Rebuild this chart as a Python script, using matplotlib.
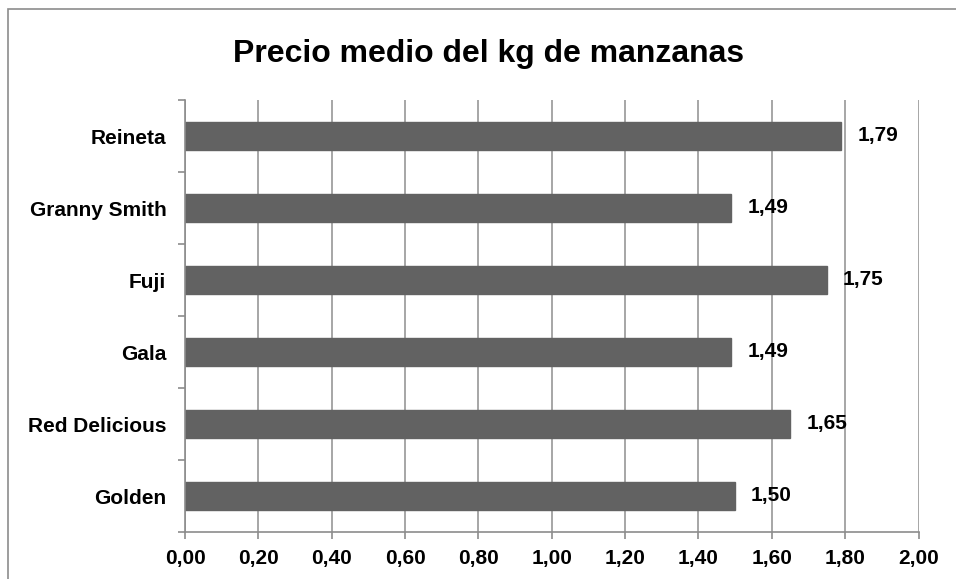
import matplotlib.pyplot as plt
from matplotlib.patches import Rectangle
from matplotlib.ticker import FixedLocator, FuncFormatter
import numpy as np

plt.rcParams['font.family'] = ['Liberation Sans', 'DejaVu Sans']

variedades = ['Golden', 'Red Delicious', 'Gala', 'Fuji', 'Granny Smith', 'Reineta']
precios = [1.50, 1.65, 1.49, 1.75, 1.49, 1.79]
ticks_x = [0.0, 0.2, 0.4, 0.6, 0.8, 1.0, 1.2, 1.4, 1.6, 1.8, 2.0]

fig = plt.figure(figsize=(9.56, 5.79), dpi=100)
W, H = 956, 579

# chart frame (cut off at right and bottom like the original sheet)
fig.patches.append(Rectangle((8 / W, -0.1), 1.2, (579 - 9) / H + 0.1,
                             transform=fig.transFigure, fill=False,
                             edgecolor='#8c8c8c', linewidth=1.2))

ax = fig.add_axes([185 / W, (H - 532) / H, (918.5 - 185) / W, (532 - 100) / H])

y = np.arange(len(variedades))
ax.barh(y, precios, height=0.4, color='#626262', edgecolor='#626262', zorder=3)

ax.set_xlim(0, 2.0)
ax.set_ylim(-0.5, len(variedades) - 0.5)
ax.xaxis.set_major_locator(FixedLocator(ticks_x))
ax.xaxis.set_major_formatter(FuncFormatter(lambda v, p: f'{v:.2f}'.replace('.', ',')))
ax.grid(axis='x', color='#979797', linewidth=1.2, zorder=0)

# category labels without ticks, ticks at the boundaries
ax.set_yticks(y)
ax.set_yticklabels(variedades)
ax.set_yticks(np.arange(-0.5, len(variedades)), minor=True)
ax.tick_params(axis='y', which='major', length=0, pad=13.5, labelsize=15)
ax.tick_params(axis='y', which='minor', length=5, width=1.2, color='#8c8c8c')
ax.tick_params(axis='x', length=5, width=1.2, color='#8c8c8c', pad=7, labelsize=15)
for lbl in ax.get_xticklabels() + ax.get_yticklabels():
    lbl.set_fontweight('bold')

for s in ['top', 'right']:
    ax.spines[s].set_visible(False)
for s in ['left', 'bottom']:
    ax.spines[s].set_color('#8c8c8c')
    ax.spines[s].set_linewidth(1.2)
    ax.spines[s].set_zorder(4)

for yi, v in zip(y, precios):
    ax.annotate(f'{v:.2f}'.replace('.', ','), xy=(v, yi), xytext=(16, 0),
                textcoords='offset pixels', va='center', ha='left',
                fontsize=15, fontweight='bold', zorder=5)

fig.text(489 / W, 1 - 62 / H, 'Precio medio del kg de manzanas',
         ha='center', va='baseline', fontsize=23, fontweight='bold')

fig.savefig('out.png', dpi=100)
